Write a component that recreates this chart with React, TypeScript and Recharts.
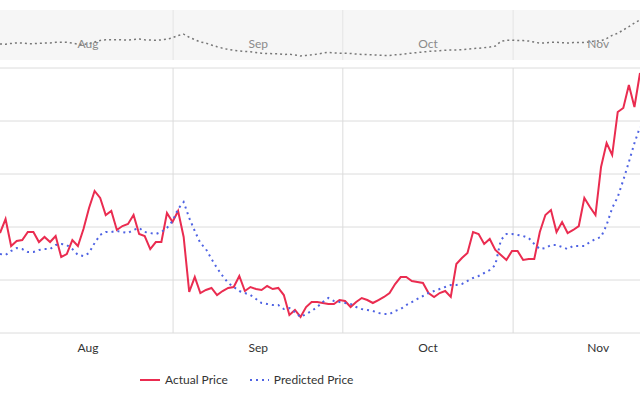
import { LineChart, Line, XAxis, YAxis, CartesianGrid, ReferenceLine } from 'recharts'

// one point per day
const actual = [
  194.3, 207.5, 182.1, 186.8, 187.7, 195.3, 195.3, 185.8, 190.6, 185.8,
  191.5, 171.7, 174.5, 187.7, 182.1, 198.1, 217.9, 234.0, 227.4, 211.3,
  215.1, 197.2, 200.9, 202.8, 211.3, 193.4, 191.5, 179.2, 185.8, 185.8,
  213.2, 204.7, 215.1, 190.6, 138.7, 152.8, 137.7, 140.6, 142.5, 135.8,
  139.6, 142.5, 143.4, 153.8, 139.6, 143.4, 141.5, 140.6, 144.3, 141.5,
  142.5, 135.8, 117.0, 121.7, 115.1, 124.5, 129.2, 129.2, 128.3, 127.4,
  127.4, 131.1, 130.2, 124.5, 129.2, 133.0, 131.1, 128.3, 131.1, 134.0,
  137.7, 146.2, 152.8, 152.8, 149.1, 148.1, 147.2, 137.7, 134.0, 137.7,
  139.6, 134.0, 165.1, 170.8, 175.5, 195.3, 193.4, 184.0, 188.7, 178.3,
  173.6, 168.9, 177.4, 177.4, 168.9, 169.8, 169.8, 195.3, 211.3, 216.0,
  195.3, 204.7, 194.3, 197.2, 200.9, 227.4, 218.9, 211.3, 256.6, 279.2,
  267.9, 308.5, 312.3, 334.0, 313.2, 345.3,
]

const predicted = [
  174.5, 173.6, 177.4, 180.2, 179.2, 176.4, 176.4, 178.3, 179.2, 179.2,
  183.0, 184.0, 183.0, 179.2, 173.6, 172.6, 175.5, 184.9, 192.5, 195.3,
  195.3, 196.2, 195.3, 194.3, 197.2, 199.1, 195.3, 194.3, 193.4, 195.3,
  199.1, 205.7, 217.0, 223.6, 208.5, 196.2, 184.9, 179.2, 169.8, 161.3,
  153.8, 147.2, 143.4, 139.6, 137.7, 135.8, 132.1, 128.3, 127.4, 126.4,
  126.4, 122.6, 123.6, 119.8, 115.1, 117.9, 120.8, 124.5, 129.2, 133.0,
  130.2, 129.2, 128.3, 127.4, 124.5, 122.6, 121.7, 120.8, 118.9, 117.9,
  117.9, 120.8, 122.6, 126.4, 129.2, 132.1, 134.9, 137.7, 139.6, 141.5,
  143.4, 145.3, 145.3, 146.2, 149.1, 151.9, 153.8, 156.6, 159.4, 164.2,
  187.7, 193.4, 193.4, 192.5, 191.5, 189.6, 184.0, 179.2, 180.2, 183.0,
  183.0, 181.1, 179.2, 182.1, 182.1, 182.1, 185.8, 188.7, 190.6, 201.9,
  217.9, 228.3, 244.3, 261.3, 279.2, 294.3,
]

const months = ['Aug', 'Sep', 'Oct', 'Nov']
const monthMid = [15.8, 46.4, 76.9, 107.5]
const monthStart = [31.1, 61.6, 92.2]
const yTicks = [100, 150, 200, 250, 300, 350]
const navDomain = [95, 344]

const RED = '#ea2c50'
const BLUE = '#4f63e3'
const FONT = 'Lato, "Open Sans", sans-serif'

const data = actual.map((a, i) => ({ i, actual: a, predicted: predicted[i] }))
const lastIdx = data.length - 1

const monthName = (v: number) => {
  const k = monthMid.findIndex((m) => Math.abs(m - v) < 0.01)
  return k >= 0 ? months[k] : ''
}

function NavTick(props: any) {
  const { x = 0, y = 0, payload } = props
  return (
    <text x={x} y={y - 20} textAnchor="middle" fill="#8a8a8a" fontSize={12} fontFamily={FONT}>
      {monthName(payload?.value)}
    </text>
  )
}

export default function App() {
  return (
    <div style={{ position: 'absolute', left: 0, top: 0, width: 640, height: 394, background: '#fff', fontFamily: FONT }}>
      {/* navigator strip */}
      <div style={{ position: 'absolute', left: 0, top: 10, width: 640, height: 50, background: '#f6f6f6' }} />
      <div style={{ position: 'absolute', left: 0, top: 10 }}>
        <LineChart width={640} height={70} data={data} margin={{ top: 0, right: 0, bottom: 0, left: 0 }}>
          <XAxis dataKey="i" type="number" domain={[0, lastIdx]} ticks={monthMid} height={20}
            axisLine={false} tickLine={false} tick={NavTick} interval={0} />
          <YAxis hide domain={navDomain} allowDataOverflow ticks={navDomain} />
          {monthStart.map((m) => (
            <ReferenceLine key={m} x={m} stroke="#e4e4e4" strokeWidth={1} />
          ))}
          <Line dataKey="predicted" stroke="#777" strokeWidth={1.5} strokeDasharray="2 3"
            dot={false} isAnimationActive={false} />
        </LineChart>
      </div>

      {/* main chart */}
      <div style={{ position: 'absolute', left: 0, top: 60 }}>
        <LineChart width={640} height={303} data={data} margin={{ top: 8, right: 0, bottom: 0, left: 0 }}>
          <CartesianGrid vertical={false} stroke="#dcdcdc" strokeWidth={1} />
          <XAxis dataKey="i" type="number" domain={[0, lastIdx]} ticks={monthMid} interval={0}
            axisLine={false} tickLine={false} height={30} tickMargin={4}
            tickFormatter={monthName}
            tick={{ fill: '#333', fontSize: 12, fontFamily: FONT }} />
          <YAxis hide domain={[100, 350]} ticks={yTicks} />
          {monthStart.map((m) => (
            <ReferenceLine key={m} x={m} stroke="#dcdcdc" strokeWidth={1} />
          ))}
          <Line dataKey="actual" name="Actual Price" stroke={RED} strokeWidth={2}
            dot={false} isAnimationActive={false} />
          <Line dataKey="predicted" name="Predicted Price" stroke={BLUE} strokeWidth={2}
            strokeDasharray="2 4" dot={false} isAnimationActive={false} />
        </LineChart>
      </div>

      {/* legend */}
      <div style={{ position: 'absolute', left: 140, top: 372, display: 'flex', alignItems: 'center', fontSize: 12, color: '#333' }}>
        <svg width={20} height={14}><line x1={0} y1={7} x2={20} y2={7} stroke={RED} strokeWidth={2} /></svg>
        <span style={{ marginLeft: 5 }}>Actual Price</span>
        <svg width={20} height={14} style={{ marginLeft: 21 }}>
          <line x1={1} y1={7} x2={20} y2={7} stroke={BLUE} strokeWidth={2} strokeDasharray="2 4" />
        </svg>
        <span style={{ marginLeft: 5 }}>Predicted Price</span>
      </div>
    </div>
  )
}
